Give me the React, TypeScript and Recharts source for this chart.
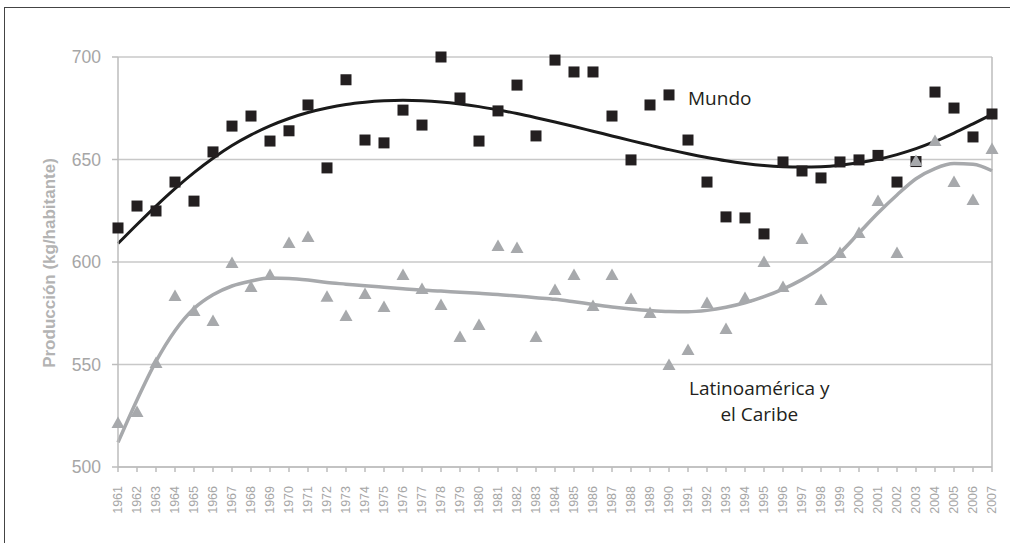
import React from "react";
import { ComposedChart, Scatter, Line, XAxis, YAxis, CartesianGrid, ReferenceLine } from "recharts";

const years = [
  1961, 1962, 1963, 1964, 1965, 1966, 1967, 1968, 1969, 1970, 1971, 1972, 1973, 1974, 1975, 1976,
  1977, 1978, 1979, 1980, 1981, 1982, 1983, 1984, 1985, 1986, 1987, 1988, 1989, 1990, 1991, 1992,
  1993, 1994, 1995, 1996, 1997, 1998, 1999, 2000, 2001, 2002, 2003, 2004, 2005, 2006, 2007,
];

const mundo = [
  616.6, 627.3, 624.9, 639, 629.7, 653.7, 666.3, 671.2, 659, 664, 676.6, 645.9, 688.9, 659.5, 658.1, 674.1,
  666.8, 700, 680, 659, 673.7, 686.3, 661.5, 698.5, 692.7, 692.7, 671.2, 649.8, 676.6, 681.5, 659.5, 639,
  622, 621.5, 613.7, 648.8, 644.4, 641, 648.8, 649.8, 652, 639, 649, 682.9, 675.1, 661, 672.2,
];

const latam = [
  521.5, 526.8, 550.7, 583.4, 576.1, 571.2, 599.5, 587.8, 593.7, 609.3, 612.2, 583, 573.7, 584.4, 578, 593.7,
  586.8, 579, 563.4, 569.3, 607.8, 606.8, 563.4, 586.3, 593.7, 578.5, 593.7, 582, 575.1, 549.8, 557.1, 580,
  567.3, 582.4, 600, 587.8, 611.2, 581.5, 604.4, 614.1, 629.8, 604.4, 649.3, 659, 639, 630.2, 655.1,
];

// trend curves, one value per year
const mundoTrend = [
  609, 618.3, 627.3, 635.8, 643.6, 650.6, 656.8, 662, 666.4, 670, 672.9, 675.1, 676.8, 677.9, 678.6, 678.9,
  678.7, 678.1, 677.1, 675.8, 674.2, 672.4, 670.4, 668.3, 666.1, 663.8, 661.5, 659.2, 657, 654.8, 652.8, 651,
  649.4, 648.1, 647.1, 646.5, 646.3, 646.5, 647.2, 648.4, 650.1, 652.4, 655.3, 658.8, 662.9, 667.4, 672,
];

const latamTrend = [
  512, 532.7, 551.5, 566.5, 577.3, 584, 588.3, 590.7, 592.2, 592, 591.2, 590, 589.2, 588.4, 587.7, 587,
  586.3, 585.8, 585.2, 584.7, 584.2, 583.4, 582.6, 581.8, 580.6, 579.3, 578.1, 577.1, 576.3, 575.8, 575.7, 576.4,
  577.9, 580.1, 583.1, 586.8, 591.4, 597.1, 604.5, 614.2, 623.9, 632.7, 640.6, 645.6, 648, 647.7, 644.5,
];

const yTicks = [500, 550, 600, 650, 700];

const data = years.map((year, i) => ({
  year,
  mundo: mundo[i],
  latam: latam[i],
  mundoTrend: mundoTrend[i],
  latamTrend: latamTrend[i],
}));

const axisGray = "#bdbdbd";
const textGray = "#a6a6a6";

const Square = (p: any) => <rect x={p.cx - 5.5} y={p.cy - 5.5} width={11} height={11} fill="#231f20" />;

const Triangle = (p: any) => (
  <path d={`M${p.cx},${p.cy - 6.5} L${p.cx + 6.5},${p.cy + 5} L${p.cx - 6.5},${p.cy + 5} Z`} fill="#a7a9ac" />
);

const YearTick = (p: any) => (
  <text
    transform={`translate(${p.x},${p.y + 12}) rotate(-90)`}
    textAnchor="end"
    dominantBaseline="central"
    fontSize={12.5}
    fill={textGray}
    fontFamily="Liberation Sans, Arial, sans-serif"
  >
    {p.payload.value}
  </text>
);

const note: React.CSSProperties = {
  position: "absolute",
  fontFamily: "'Open Sans', sans-serif",
  fontSize: 19,
  color: "#231f20",
  lineHeight: "26px",
  whiteSpace: "nowrap",
};

export default function App() {
  return (
    <div style={{ position: "absolute", left: 0, top: 0, width: 1010, height: 543, overflow: "hidden", background: "#fff" }}>
      <div style={{ position: "absolute", left: 4, top: 7, width: 1020, height: 560, border: "1.5px solid #444" }} />
      <div style={{ position: "absolute", left: 0, top: 0 }}>
        <ComposedChart width={1010} height={543} data={data} margin={{ top: 57, right: 18, bottom: 16, left: 48 }}>
          <CartesianGrid vertical={false} stroke="#c8c8c8" strokeWidth={1.5} />
          <XAxis
            dataKey="year"
            type="number"
            domain={[1961, 2007]}
            ticks={years}
            interval={0}
            height={60}
            stroke={axisGray}
            strokeWidth={1.5}
            tickSize={5}
            tick={<YearTick />}
          />
          <YAxis
            domain={[500, 700]}
            ticks={yTicks}
            width={70}
            stroke={axisGray}
            strokeWidth={1.5}
            tickSize={6}
            tickMargin={11}
            tick={{ fill: textGray, fontSize: 17.5, fontFamily: "Liberation Sans, Arial, sans-serif" }}
          />
          <ReferenceLine x={2007} stroke={axisGray} strokeWidth={1.5} />
          <Line dataKey="latamTrend" type="monotone" stroke="#a7a9ac" strokeWidth={3.5} dot={false} isAnimationActive={false} />
          <Line dataKey="mundoTrend" type="monotone" stroke="#1a1a1a" strokeWidth={3} dot={false} isAnimationActive={false} />
          <Scatter dataKey="mundo" shape={Square} isAnimationActive={false} />
          <Scatter dataKey="latam" shape={Triangle} isAnimationActive={false} />
        </ComposedChart>
      </div>
      <div
        style={{
          position: "absolute",
          left: 50,
          top: 263,
          transform: "translate(-50%, -50%) rotate(-90deg)",
          fontFamily: "Liberation Sans, Arial, sans-serif",
          fontWeight: "bold",
          fontSize: 17,
          color: "#b3b3b3",
          whiteSpace: "nowrap",
        }}
      >
        Producción (kg/habitante)
      </div>
      <div style={{ ...note, left: 688, top: 85 }}>Mundo</div>
      <div style={{ ...note, left: 689, top: 375, textAlign: "center" }}>
        Latinoamérica y
        <br />
        el Caribe
      </div>
    </div>
  );
}
